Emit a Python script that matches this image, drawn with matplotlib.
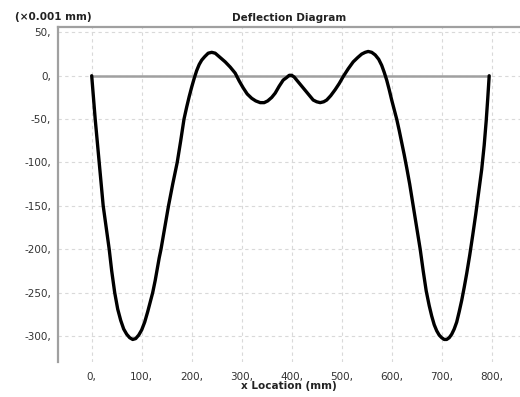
import matplotlib
matplotlib.use("Agg")
import matplotlib.pyplot as plt

# Deflection along the beam (x in mm, deflection in 0.001 mm)
x_mm = [0, 3.5, 7, 11, 15, 19, 23, 29, 35, 40, 46, 52, 58, 64, 70, 76, 82, 88,
        94, 100, 106, 112, 117, 122, 127, 131, 135, 138.6, 146, 153.6, 162,
        171, 178, 184.6, 190, 195, 200, 205, 210, 215, 220, 226, 233, 240,
        247, 257, 267, 277, 287, 295, 303, 311, 320, 328, 337, 345, 352, 360,
        367, 375, 383, 390, 395, 400, 405, 410, 420, 430, 437, 443, 450, 457,
        464, 470, 478, 487, 495, 503, 513, 523, 532, 540, 547, 553, 560, 567,
        574, 580, 585, 590, 595, 600, 605, 610, 615, 620, 625, 630, 636, 643,
        650, 657, 663, 669, 675, 680, 685, 690, 695, 700, 705, 710, 715, 720,
        725, 730, 735, 740, 745, 750, 756, 762, 768, 774, 780, 785, 789, 792,
        795]
deflection = [0, -25, -50, -75, -100, -125, -150, -175, -200, -225, -250, -269,
              -282, -292, -298, -302, -304, -303, -299, -293, -284, -272, -261,
              -250, -236, -223, -210, -200, -175, -150, -125, -100, -75, -50,
              -36, -24, -13, -3, 6, 13, 18, 22, 26, 27, 26, 21, 16, 10, 3, -6,
              -14, -21, -26, -29, -31, -31, -29, -25, -20, -12, -5, -2, 0.5,
              0.5, -1.5, -5, -12, -19, -24, -28, -30, -31, -30, -28, -23, -16,
              -9, -1, 8, 16, 21, 25, 27, 28, 27, 24, 19, 12, 4, -5, -16, -28,
              -39, -50, -63, -77, -91, -106, -125, -150, -175, -200, -225, -248,
              -265, -277, -287, -294, -299, -302, -304, -304, -302, -298, -292,
              -284, -272, -259, -244, -228, -207, -184, -160, -134, -108, -80,
              -52, -27, 0]

beam_start, beam_end = 0, 795
x_ticks = [0, 100, 200, 300, 400, 500, 600, 700, 800]
y_ticks = [50, 0, -50, -100, -150, -200, -250, -300]

fig = plt.figure(figsize=(5.2, 3.97), dpi=100)
ax = fig.add_axes([58 / 520, 1 - 362 / 397, 1 - 58 / 520, (362 - 27) / 397])

ax.set_xlim(-67.4, 856.6)
ax.set_ylim(-330, 56.2)

ax.grid(True, color="#d9d9d9", linestyle=(0, (3, 3)), linewidth=0.8)
ax.set_axisbelow(True)

# undeformed beam
ax.plot([beam_start, beam_end], [0, 0], color="#a0a0a0", linewidth=1.8,
        solid_capstyle="butt", zorder=2)
# deflected shape
ax.plot(x_mm, deflection, color="black", linewidth=2.4,
        solid_joinstyle="round", solid_capstyle="round", zorder=3)

ax.set_xticks(x_ticks)
ax.set_xticklabels([f"{v}," for v in x_ticks])
ax.set_yticks(y_ticks)
ax.set_yticklabels([f"{v}," for v in y_ticks])
ax.tick_params(axis="both", length=0, labelsize=7.5, labelcolor="#333333")
ax.tick_params(axis="x", pad=7)
ax.tick_params(axis="y", pad=5)

for side in ("right", "bottom"):
    ax.spines[side].set_visible(False)
for side in ("left", "top"):
    ax.spines[side].set_color("#a0a0a0")
    ax.spines[side].set_linewidth(1.6)

fig.text(289 / 520, 1 - 18 / 397, "Deflection Diagram", ha="center",
         va="center", fontsize=7.5, fontweight="bold", color="#222222")
fig.text(15 / 520, 1 - 17 / 397, "(\u00d70.001 mm)", ha="left",
         va="center", fontsize=7.5, fontweight="bold", color="#222222")
fig.text(289 / 520, 1 - 386 / 397, "x Location (mm)", ha="center",
         va="center", fontsize=7.5, fontweight="bold", color="#222222")

fig.savefig("out.png", dpi=100)
